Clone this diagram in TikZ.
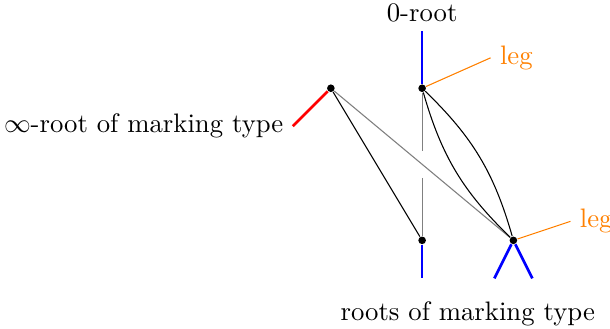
\documentclass[tikz,border=0pt]{standalone}
\usepackage{amsmath,amssymb}
\usepackage{tikz}
\usetikzlibrary{positioning,backgrounds,calc}

\begin{document}
\begin{tikzpicture}[vert/.style={circle,fill,inner sep=0pt,minimum size=1mm}, root/.style={line width=1pt}, leg/.style={orange}]
\useasboundingbox (-5.55,-1.16) rectangle (2.47,3.16);
\node[vert] (V1) at (-1.2,2.0) {};
\node[vert] (V2) at (0.0,2.0) {};
\node[vert] (V3) at (0.0,0.0) {};
\node[vert] (V4) at (1.2,0.0) {};
% roots and legs
\coordinate (R1) at (-1.7,1.5);
\coordinate (R2) at (0.0,2.75);
\coordinate (R3) at (0.0,-0.5);
\coordinate (R4a) at (0.95,-0.5);
\coordinate (R4b) at (1.45,-0.5);
\coordinate (L2) at (0.9,2.4);
\coordinate (L4) at (1.95,0.25);
\node[left=0pt of R1] (INFROOT) {$\infty$-root of marking type};
\node[above=0pt of R2] (ZEROROOT) {0-root};
\node[leg,right=0pt of L2] (LEG2) {leg};
\node[leg,right=0pt of L4] (LEG4) {leg};
\node (MROOTS) at (0.6,-0.97) {roots of marking type};
\coordinate (GAP1) at ($(V2)!0.41!(V3)$);
\coordinate (GAP2) at ($(V2)!0.59!(V3)$);
\begin{scope}[on background layer]
\draw[root,red] (V1) -- (R1);
\draw[root,blue] (V2) -- (R2);
\draw[root,blue] (V3) -- (R3);
\draw[root,blue] (V4) -- (R4a);
\draw[root,blue] (V4) -- (R4b);
\draw[leg] (V2) -- (L2);
\draw[leg] (V4) -- (L4);
\draw (V1) -- (V3);
\draw[gray] (V1) -- (V4);
\draw[gray] (V2) -- (GAP1);
\draw[gray] (GAP2) -- (V3);
\draw[bend left=15] (V2) to (V4);
\draw[bend right=15] (V2) to (V4);
\end{scope}
\end{tikzpicture}
\end{document}
